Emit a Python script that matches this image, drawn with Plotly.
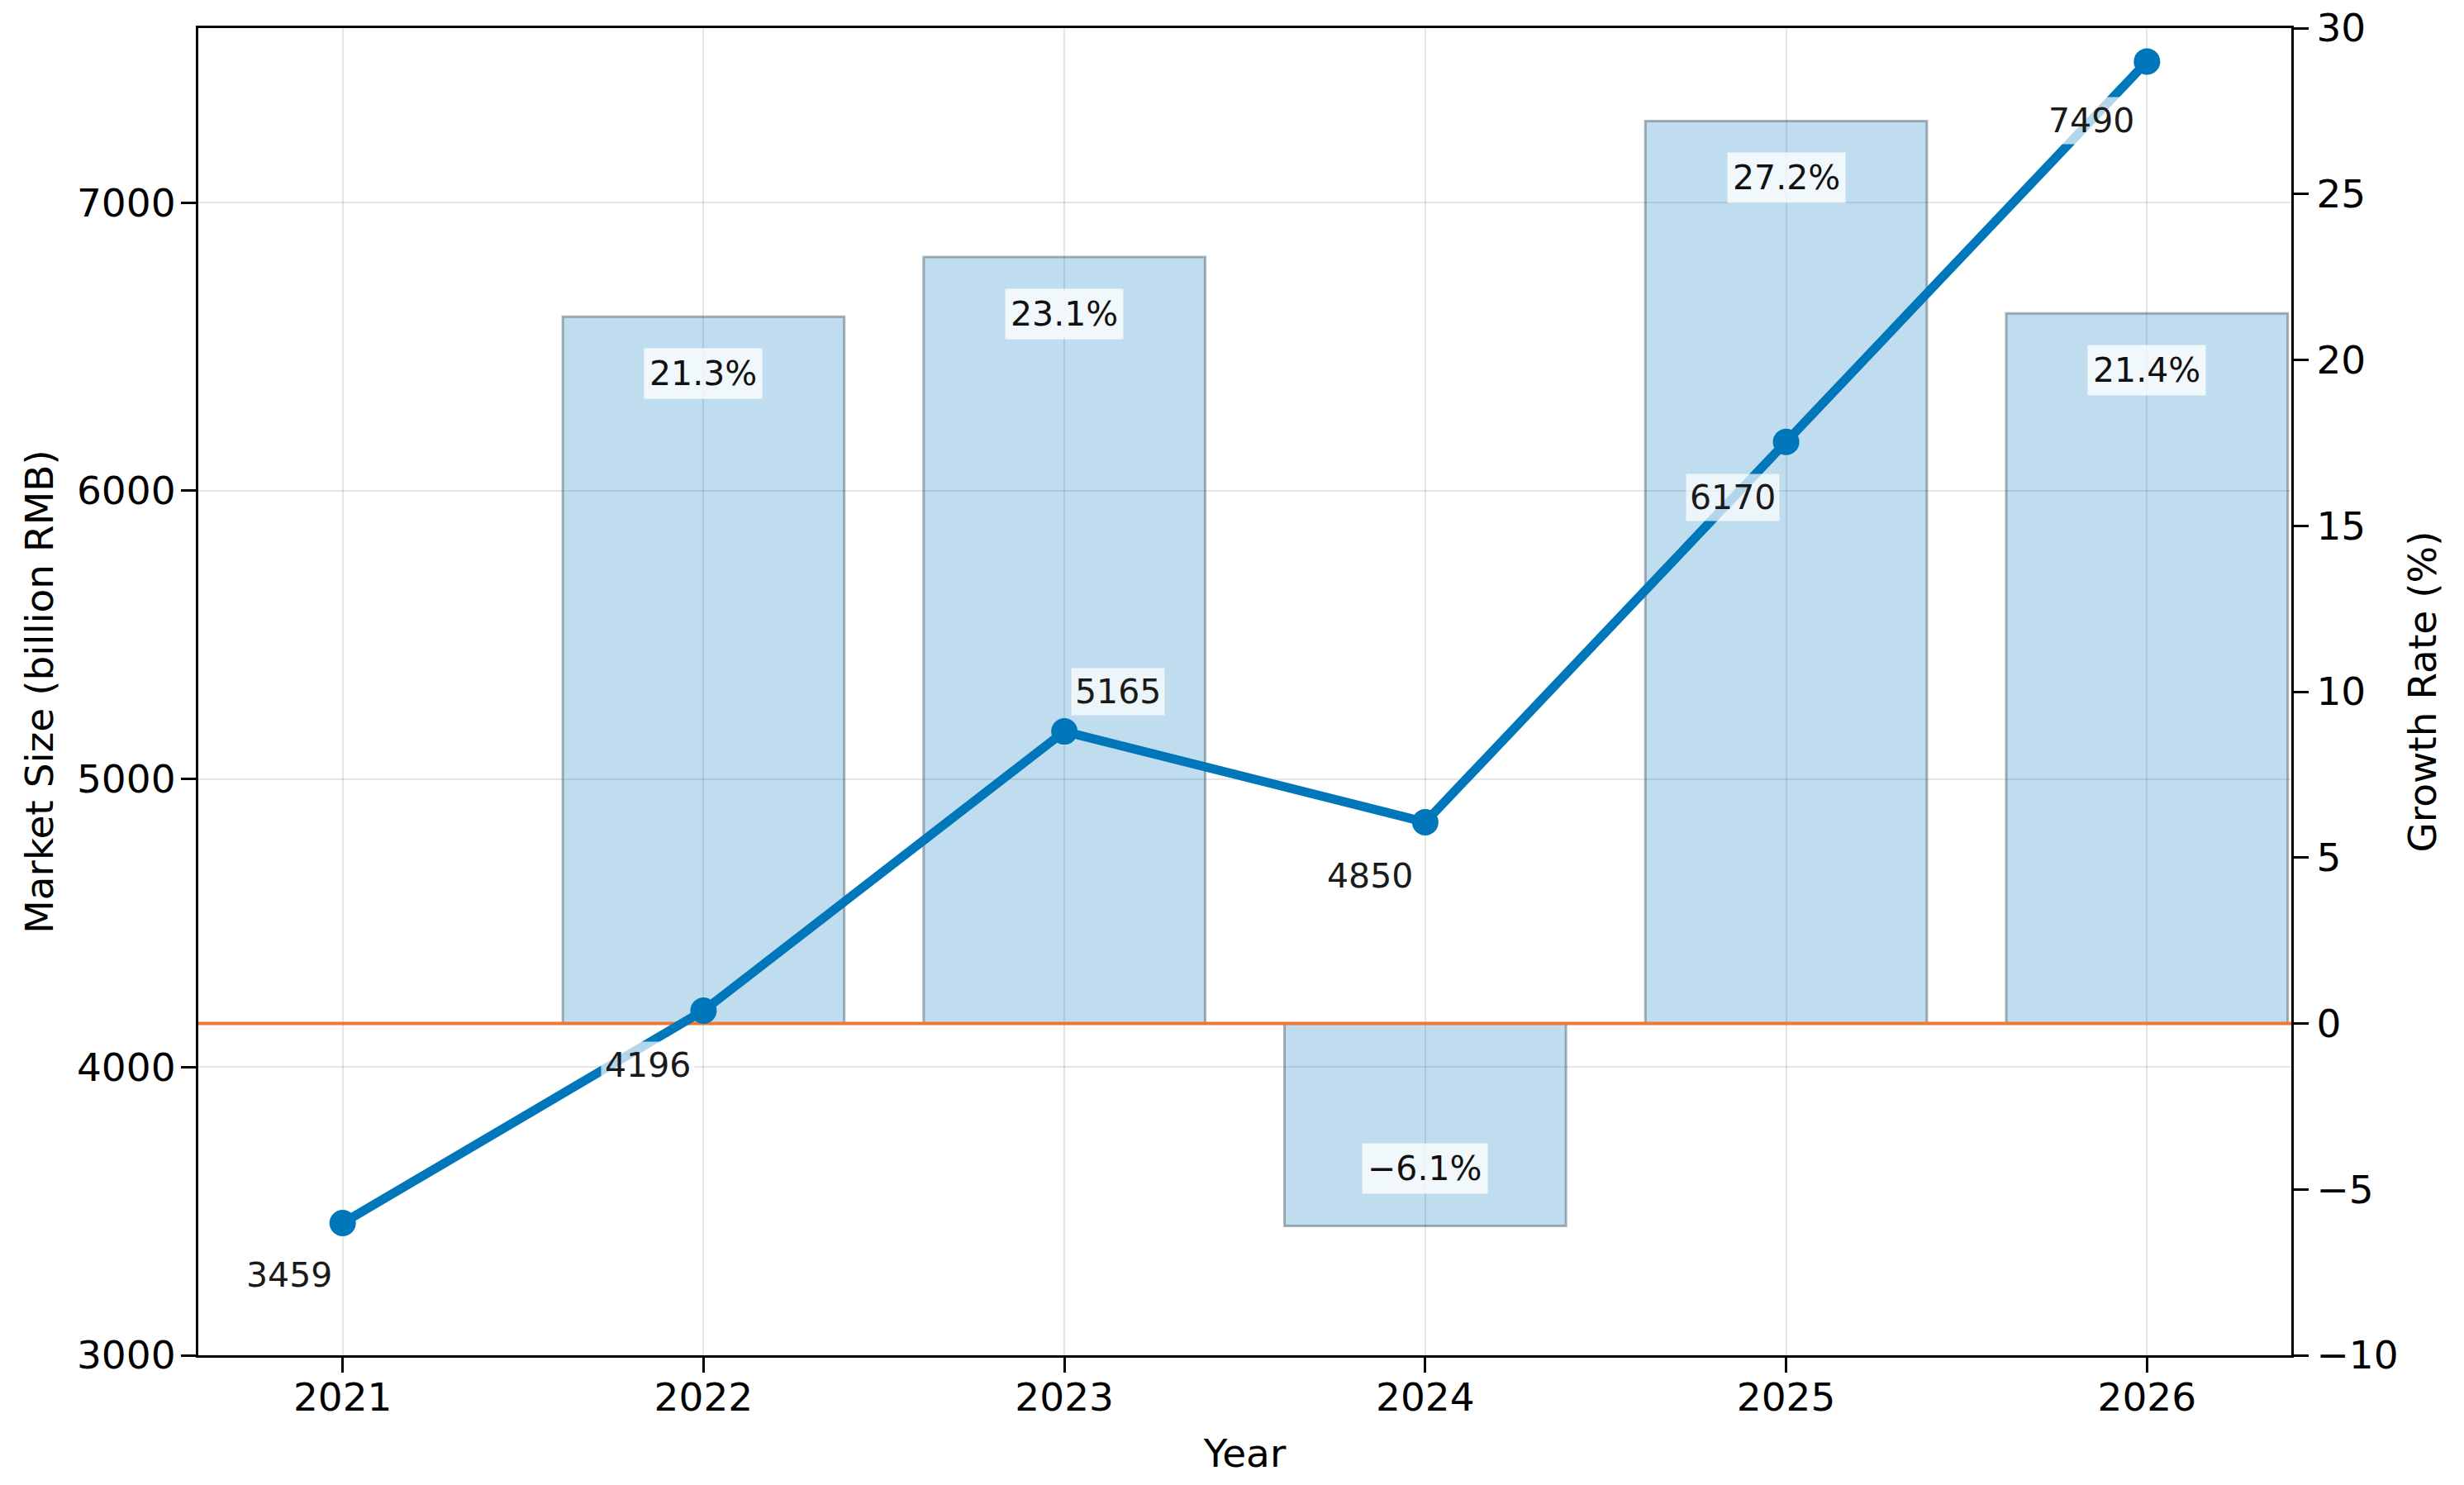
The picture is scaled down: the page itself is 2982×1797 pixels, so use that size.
import plotly.graph_objects as go

years = [2021, 2022, 2023, 2024, 2025, 2026]
market_size = [3459, 4196, 5165, 4850, 6170, 7490]
growth_rate = [None, 21.3, 23.1, -6.1, 27.2, 21.4]
growth_labels = ["", "21.3%", "23.1%", "\u22126.1%", "27.2%", "21.4%"]
size_labels = ["3459", "4196", "5165", "4850", "6170", "7490"]
size_label_offsets = [(-65, -63), (-67, -66), (65, 48), (-67, -65), (-65, -67), (-67, -72)]

left_range = [3000, 7606]
right_range = [-10, 30.0001]
x_range = [2020.6, 2026.4]

BLUE = "#0077BB"
ORANGE = "#EE7733"
FONT = "DejaVu Sans"

fig = go.Figure()

# bars (growth rate) on the right-hand axis (base subplot)
fig.add_trace(go.Bar(
    x=years, y=growth_rate, width=0.78,
    marker=dict(color="rgba(0,119,187,0.25)",
                line=dict(color="rgba(70,85,95,0.45)", width=3)),
    yaxis="y", showlegend=False,
))
# zero reference line
fig.add_trace(go.Scatter(
    x=x_range, y=[0, 0], mode="lines",
    line=dict(color=ORANGE, width=4), yaxis="y", showlegend=False,
))
# market size line on the overlaying left axis
fig.add_trace(go.Scatter(
    x=years, y=market_size, mode="lines+markers",
    line=dict(color=BLUE, width=11),
    marker=dict(color=BLUE, size=32),
    yaxis="y2", showlegend=False,
))

annotations = []
for yr, g, lab in zip(years, growth_rate, growth_labels):
    if g is None:
        continue
    annotations.append(dict(
        x=yr, y=g, xref="x", yref="y", text=lab, showarrow=False,
        yshift=-69 if g > 0 else 69,
        font=dict(family=FONT, size=41, color="#111111"),
        bgcolor="rgba(255,255,255,0.78)", borderpad=6,
    ))
for yr, v, lab, (dx, dy) in zip(years, market_size, size_labels, size_label_offsets):
    annotations.append(dict(
        x=yr, y=v, xref="x", yref="y2", text=lab, showarrow=False,
        xshift=dx, yshift=dy,
        font=dict(family=FONT, size=41, color="#1a1a1a"),
        bgcolor="rgba(255,255,255,0.7)", borderpad=4,
    ))

axis_common = dict(
    showline=True, linecolor="black", linewidth=3,
    ticks="outside", ticklen=18, tickwidth=3, tickcolor="black",
    tickfont=dict(family=FONT, size=47, color="black"),
    zeroline=False, ticklabeloverflow="allow", automargin=False,
)

fig.update_layout(
    width=2982, height=1797,
    margin=dict(l=232, r=217, t=26, b=165),
    paper_bgcolor="white", plot_bgcolor="white",
    font=dict(family=FONT, color="black"),
    bargap=0.2,
    annotations=annotations,
    xaxis=dict(
        range=x_range, tickmode="array", tickvals=years,
        ticktext=[str(y) for y in years],
        showgrid=True, gridcolor="rgba(0,0,0,0.1)", gridwidth=2,
        title=dict(text="Year", font=dict(family=FONT, size=47), standoff=25),
        mirror=True, ticklabelstandoff=-10,
        **axis_common,
    ),
    yaxis=dict(
        side="right", range=right_range, tickmode="array",
        tickvals=[-10, -5, 0, 5, 10, 15, 20, 25, 30],
        showgrid=False, mirror=False,
        title=dict(text="Growth Rate (%)", font=dict(family=FONT, size=47), standoff=14),
        **axis_common,
    ),
    yaxis2=dict(
        overlaying="y", side="left", range=left_range, tickmode="array",
        tickvals=[3000, 4000, 5000, 6000, 7000],
        showgrid=True, gridcolor="rgba(0,0,0,0.1)", gridwidth=2, mirror=False,
        ticklabelstandoff=-3,
        title=dict(text="Market Size (billion RMB)", font=dict(family=FONT, size=47), standoff=14),
        **axis_common,
    ),
)

fig.write_html("out.html")
